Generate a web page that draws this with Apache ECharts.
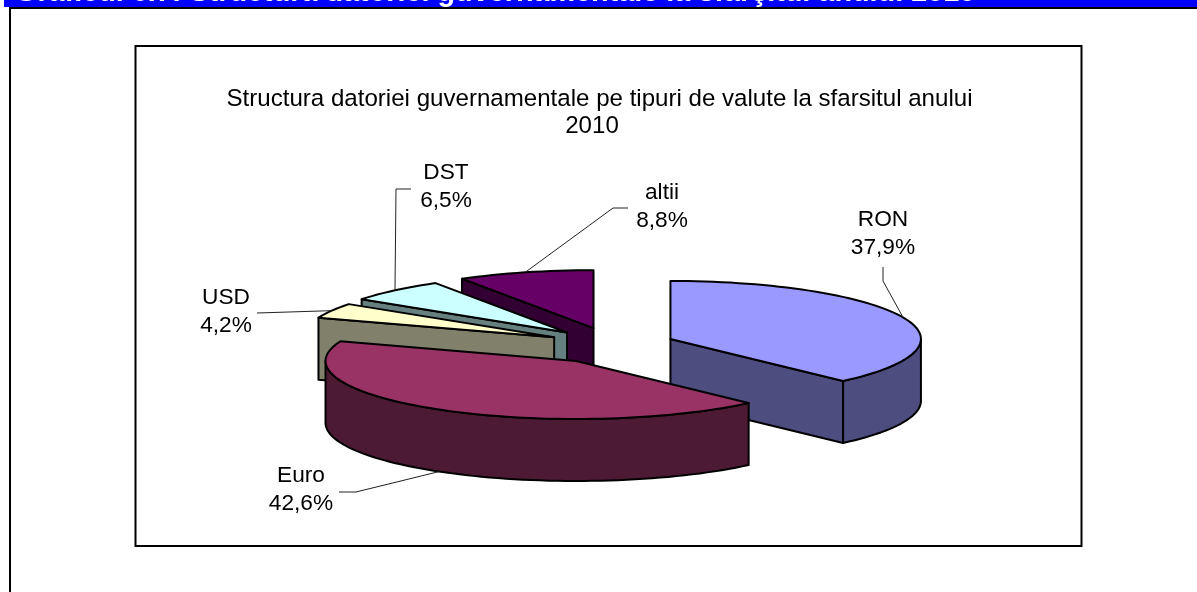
<!DOCTYPE html>
<html>
<head>
<meta charset="utf-8">
<style>html,body{margin:0;padding:0;background:#fff}#c{width:1197px;height:592px}</style>
<script src="https://cdn.jsdelivr.net/npm/echarts@6/dist/echarts.min.js"></script>
</head>
<body>
<div id="c"></div>
<script>
const categories = ['RON', 'Euro', 'USD', 'DST', 'altii'];
const shares = [37.9, 42.6, 4.2, 6.5, 8.8];
const topColors = ['#9999FF', '#993366', '#FFFFCC', '#CCFFFF', '#660066'];
const sideColors = ['#4D4D80', '#4D1A33', '#80806B', '#668080', '#330033'];
const paintOrder = [0, 4, 3, 2, 1];
const chartTitleLines = ['Structura datoriei guvernamentale pe tipuri de valute la sfarsitul anului', '2010'];
const pageHeading = 'Graficul 6.7: Structura datoriei guvernamentale la sfârşitul anului 2010';

const pie = { cx: 611, cy: 345.7, rx: 250.5, ry: 58, depth: 62, explode: 64, explodeY: 0.285 };
const labelPos = [[883, 220], [301, 476], [226, 298], [446, 173], [662, 193]];
const leaderBends = [
  [[883, 281], [883, 267]],
  [[356, 492], [339, 492]],
  [[257, 313]],
  [[396, 189], [411, 189]],
  [[613, 208], [628, 208]]
];

const total = shares.reduce((a, b) => a + b, 0);
const starts = [];
shares.reduce((acc, v, i) => { starts[i] = acc; return acc + v / total * 360; }, 0);
const rad = d => d * Math.PI / 180;

function rim(apex, deg, dy) {
  return [apex[0] + pie.rx * Math.sin(rad(deg)), apex[1] - pie.ry * Math.cos(rad(deg)) + (dy || 0)];
}
function arc(apex, a0, a1, dy) {
  const n = Math.max(2, Math.ceil((a1 - a0) / 2)), pts = [];
  for (let k = 0; k <= n; k++) pts.push(rim(apex, a0 + (a1 - a0) * k / n, dy));
  return pts;
}
function renderSlice(params, api) {
  const i = api.value(0);
  const a0 = starts[i], a1 = a0 + shares[i] / total * 360, mid = (a0 + a1) / 2;
  const apex = [pie.cx + pie.explode * Math.sin(rad(mid)),
                pie.cy - pie.explode * pie.explodeY * Math.cos(rad(mid))];
  const style = c => ({ fill: c, stroke: '#000', lineWidth: 2, lineJoin: 'round' });
  const children = [];
  const quad = deg => {
    const p = rim(apex, deg), q = rim(apex, deg, pie.depth);
    children.push({ type: 'polygon', shape: { points: [apex, p, q, [apex[0], apex[1] + pie.depth]] }, style: style(sideColors[i]) });
  };
  if (Math.sin(rad(a0)) < -1e-6) quad(a0);
  if (Math.sin(rad(a1)) > 1e-6) quad(a1);
  const s0 = Math.max(a0, 90), s1 = Math.min(a1, 270);
  if (s1 > s0) {
    const pts = arc(apex, s0, s1, 0).concat(arc(apex, s0, s1, pie.depth).reverse());
    children.push({ type: 'polygon', shape: { points: pts }, style: style(sideColors[i]) });
  }
  children.push({ type: 'polygon', shape: { points: [apex].concat(arc(apex, a0, a1, 0)) }, style: style(topColors[i]) });

  const anchorDy = (mid > 90 && mid < 270) ? pie.depth : 0;
  const anchor = rim(apex, mid, anchorDy);
  children.push({ type: 'polyline', shape: { points: [anchor].concat(leaderBends[i]) },
    style: { fill: 'none', stroke: '#222', lineWidth: 1 } });
  const pct = shares[i].toFixed(1).replace('.', ',') + '%';
  [categories[i], pct].forEach((t, k) => children.push({
    type: 'text',
    style: { x: labelPos[i][0], y: labelPos[i][1] + k * 28, text: t, fill: '#000',
      font: '22.7px "Liberation Sans", Arial, sans-serif', textAlign: 'center', textVerticalAlign: 'middle' }
  }));
  return { type: 'group', children };
}

const titleFont = { fontFamily: '"Liberation Sans", Arial, sans-serif', fontSize: 24.1, fontWeight: 'normal', color: '#000' };
const chart = echarts.init(document.getElementById('c'), null, { renderer: 'canvas' });
chart.setOption({
  animation: false,
  backgroundColor: '#fff',
  title: [
    { text: chartTitleLines[0], left: 594.5, top: 82, textAlign: 'center', textStyle: titleFont },
    { text: chartTitleLines[1], left: 587, top: 109, textAlign: 'center', textStyle: titleFont }
  ],
  graphic: [
    { type: 'rect', z: -1, shape: { x: 4, y: 0, width: 1193, height: 7 }, style: { fill: '#0000FF' } },
    { type: 'text', z: 0, style: { x: 15, y: 8, text: pageHeading, fill: '#fff',
      font: 'bold 28.8px "Liberation Sans", Arial, sans-serif', textVerticalAlign: 'bottom' } },
    { type: 'polyline', z: 1, shape: { points: [[10, 592], [10, 8], [1197, 8]] }, style: { fill: 'none', stroke: '#000', lineWidth: 2 } },
    { type: 'rect', z: -1, shape: { x: 135.5, y: 46, width: 946, height: 500 }, style: { fill: '#fff', stroke: '#000', lineWidth: 2 } }
  ],
  series: [{
    type: 'custom',
    coordinateSystem: 'none',
    renderItem: renderSlice,
    data: paintOrder.map(i => [i, shares[i]]),
    silent: true
  }]
});
</script>
</body>
</html>
